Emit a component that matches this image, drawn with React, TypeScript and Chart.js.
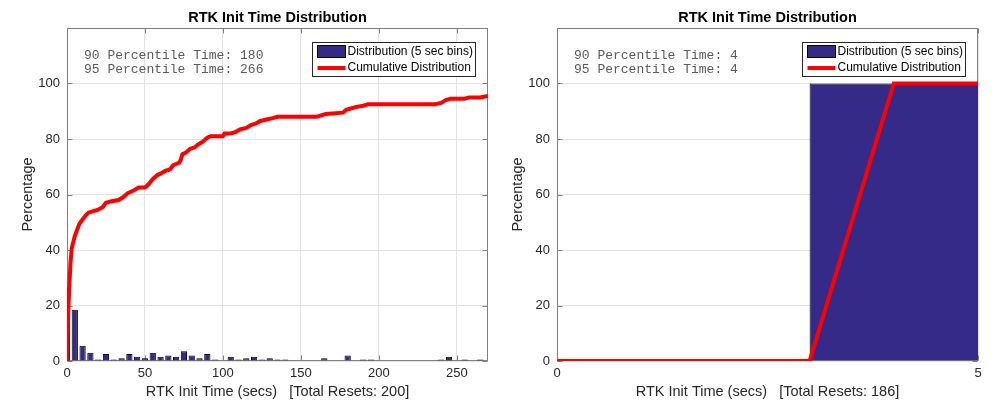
import React, { useEffect, useRef } from 'react';
import { Chart, registerables } from 'chart.js';

Chart.register(...registerables);

// ---------- Data ----------
const chartTitle = 'RTK Init Time Distribution';
const yAxisTitle = 'Percentage';
const legendLabels = ['Distribution (5 sec bins)', 'Cumulative Distribution'];

// Left panel
const xTitleL = 'RTK Init Time (secs)   [Total Resets: 200]';
const statsL = ['90 Percentile Time: 180', '95 Percentile Time: 266'];
const xTicksL = [0, 50, 100, 150, 200, 250];
const binCentersL = [
  0, 5, 10, 15, 20, 25, 30, 35, 40, 45, 50, 55, 60, 65, 70, 75, 80, 85, 90, 95,
  100, 105, 110, 115, 120, 125, 130, 135, 140, 145, 150, 155, 160, 165, 170, 175,
  180, 185, 190, 195, 200, 205, 210, 215, 220, 225, 230, 235, 240, 245, 250, 255,
  260, 265,
];
const binPctL = [
  26.5, 18.5, 5.5, 3, 0.5, 2.5, 0.5, 1, 2.5, 1.5, 1, 3, 1.5, 2, 1.5, 3.5, 2, 1, 2.5, 0.5,
  0, 1.5, 0.5, 1, 1.5, 0.5, 1, 0.5, 0.5, 0, 0, 0, 0, 1, 0, 0,
  2, 0, 0.5, 0.5, 0, 0, 0, 0, 0, 0, 0, 0, 0.5, 1.5, 0, 0.5,
  0, 0.5,
];
const cumXL = [
  0, 0.8, 1.5, 2.2, 3, 5, 7, 8, 10, 12, 14, 17, 20, 23, 25, 28, 33, 36, 39, 43,
  46, 50, 52, 55, 58, 60, 63, 66, 68, 70, 72, 73, 74, 76, 79, 82, 84, 87, 90, 92,
  97, 100, 101, 105, 108, 111, 115, 118, 121, 124, 128, 132, 135, 160, 163, 166, 177, 179, 182, 185,
  190, 193, 236, 240, 243, 246, 255, 258, 265, 270,
];
const cumYL = [
  0, 18, 27, 35, 40.5, 45, 48, 49.5, 51, 52.5, 53.5, 54, 54.5, 55.5, 57, 57.5, 58, 59, 60.5, 61.5,
  62.5, 62.5, 63.5, 65.5, 67, 67.5, 68.5, 69, 70.5, 71, 71.5, 72.5, 74.5, 75, 76.5, 77, 78, 79, 80.5, 81,
  81, 81, 82, 82, 82.5, 83.5, 84, 85, 85.5, 86.5, 87, 87.5, 88, 88, 88.5, 89, 89.5, 90.5, 91, 91.5,
  92, 92.5, 92.5, 93, 94, 94.5, 94.5, 95, 95, 95.5,
];

// Right panel
const xTitleR = 'RTK Init Time (secs)   [Total Resets: 186]';
const statsR = ['90 Percentile Time: 4', '95 Percentile Time: 4'];
const xTicksR = [0, 5];
const binCentersR = [5];
const binPctR = [100];
const cumXR = [0, 3, 4, 5];
const cumYR = [0, 0, 100, 100];

const yTicks = [0, 20, 40, 60, 80, 100];

// ---------- Styles ----------
const SANS = "'Liberation Sans', Arial, Helvetica, sans-serif";
const MONO = "'Liberation Mono', 'Courier New', monospace";
const TEXT = '#262626';
const FRAME = '#808080';
const GRID = '#e3e3e3';
const BAR = '#352a87';
const RED = '#ff0000';

Chart.defaults.font.family = SANS;
Chart.defaults.color = TEXT;

const framePlugin = {
  id: 'frame',
  beforeDatasetsDraw(chart: any) {
    const { ctx, chartArea: a, scales } = chart;
    ctx.save();
    ctx.strokeStyle = FRAME;
    ctx.lineWidth = 1;
    const L = Math.round(a.left) + 0.5;
    const R = Math.round(a.right) - 0.5;
    const T = Math.round(a.top) + 0.5;
    const B = Math.round(a.bottom) - 0.5;
    ctx.strokeRect(L, T, R - L, B - T);
    const tl = 5;
    ctx.beginPath();
    scales.x.ticks.forEach((t: any) => {
      const px = Math.round(scales.x.getPixelForValue(t.value)) + 0.5;
      ctx.moveTo(px, B);
      ctx.lineTo(px, B - tl);
      ctx.moveTo(px, T);
      ctx.lineTo(px, T + tl);
    });
    scales.y.ticks.forEach((t: any) => {
      const py = Math.round(scales.y.getPixelForValue(t.value)) + 0.5;
      ctx.moveTo(L, py);
      ctx.lineTo(L + tl, py);
      ctx.moveTo(R, py);
      ctx.lineTo(R - tl, py);
    });
    ctx.stroke();
    ctx.restore();
  },
};

function makeOverlay(stats: string[]) {
  return {
    id: 'overlay',
    afterDraw(chart: any) {
      const { ctx, chartArea: a } = chart;
      ctx.save();
      // percentile text
      ctx.font = `13px ${MONO}`;
      ctx.fillStyle = '#5a5a5a';
      ctx.textBaseline = 'middle';
      ctx.textAlign = 'left';
      stats.forEach((s, i) => ctx.fillText(s, a.left + 17, a.top + 28 + i * 13.6));
      // legend
      const bx = Math.round(a.left + 245) + 0.5;
      const by = Math.round(a.top + 14) + 0.5;
      const bw = 163;
      const bh = 34;
      ctx.fillStyle = '#ffffff';
      ctx.fillRect(bx, by, bw, bh);
      ctx.strokeStyle = '#262626';
      ctx.lineWidth = 1;
      ctx.strokeRect(bx, by, bw, bh);
      ctx.fillStyle = BAR;
      ctx.fillRect(bx + 5, by + 3, 28, 12);
      ctx.strokeStyle = '#000';
      ctx.strokeRect(bx + 5, by + 3, 28, 12);
      ctx.strokeStyle = RED;
      ctx.lineWidth = 4;
      ctx.beginPath();
      ctx.moveTo(bx + 5, by + 25.5);
      ctx.lineTo(bx + 33, by + 25.5);
      ctx.stroke();
      ctx.font = `12px ${SANS}`;
      ctx.fillStyle = '#000';
      ctx.fillText(legendLabels[0], bx + 35, by + 9.5);
      ctx.fillText(legendLabels[1], bx + 35, by + 25.5);
      ctx.restore();
    },
  };
}

type Panel = {
  binX: number[];
  binY: number[];
  cumX: number[];
  cumY: number[];
  xTicks: number[];
  xMax: number;
  xTitle: string;
  stats: string[];
  yWidth: number;
  padRight: number;
  yTitlePad: number;
};

function buildConfig(p: Panel): any {
  return {
    type: 'bar',
    data: {
      datasets: [
        {
          type: 'line',
          label: legendLabels[1],
          data: p.cumX.map((x, i) => ({ x, y: p.cumY[i] })),
          borderColor: RED,
          backgroundColor: RED,
          borderWidth: 4,
          pointRadius: 0,
          tension: 0,
          fill: false,
          clip: 0,
          order: 0,
        },
        {
          type: 'bar',
          label: legendLabels[0],
          data: p.binX.map((x, i) => ({ x, y: p.binY[i] })),
          backgroundColor: BAR,
          borderColor: '#000000',
          borderWidth: 1,
          borderSkipped: 'start',
          barPercentage: 0.8,
          categoryPercentage: 1,
          clip: 0,
          order: 1,
        },
      ],
    },
    options: {
      responsive: false,
      animation: false,
      events: [],
      layout: { padding: { left: 0, right: p.padRight, top: 0, bottom: 0 } },
      plugins: {
        legend: { display: false },
        tooltip: { enabled: false },
        title: {
          display: true,
          text: chartTitle,
          fullSize: false,
          color: '#000',
          font: { size: 14.5, weight: 'bold', family: SANS },
          padding: { top: 8.8, bottom: 1.8 },
        },
      },
      scales: {
        x: {
          type: 'linear',
          min: 0,
          max: p.xMax,
          offset: false,
          grid: { offset: false, color: GRID, drawTicks: false },
          border: { display: false },
          ticks: { padding: 5, font: { size: 13 }, color: TEXT, maxRotation: 0, includeBounds: false },
          afterBuildTicks: (s: any) => {
            s.ticks = p.xTicks.map((v) => ({ value: v }));
          },
          afterFit: (s: any) => {
            s.height = 42;
          },
          title: {
            display: true,
            text: p.xTitle,
            color: TEXT,
            font: { size: 14.5 },
            padding: { top: 0, bottom: 2.3 },
          },
        },
        y: {
          type: 'linear',
          min: 0,
          max: 120,
          grid: { color: GRID, drawTicks: false },
          border: { display: false },
          ticks: { padding: 7, font: { size: 13 }, color: TEXT, includeBounds: false },
          afterBuildTicks: (s: any) => {
            s.ticks = yTicks.map((v) => ({ value: v }));
          },
          afterFit: (s: any) => {
            s.width = p.yWidth;
          },
          title: {
            display: true,
            text: yAxisTitle,
            color: TEXT,
            font: { size: 14.5 },
            padding: { top: p.yTitlePad, bottom: 0 },
          },
        },
      },
    },
    plugins: [framePlugin, makeOverlay(p.stats)],
  };
}

const leftPanel: Panel = {
  binX: binCentersL,
  binY: binPctL,
  cumX: cumXL,
  cumY: cumYL,
  xTicks: xTicksL,
  xMax: 270,
  xTitle: xTitleL,
  stats: statsL,
  yWidth: 67,
  padRight: 12,
  yTitlePad: 19.3,
};

const rightPanel: Panel = {
  binX: binCentersR,
  binY: binPctR,
  cumX: cumXR,
  cumY: cumYR,
  xTicks: xTicksR,
  xMax: 5,
  xTitle: xTitleR,
  stats: statsR,
  yWidth: 57,
  padRight: 22,
  yTitlePad: 9.3,
};

export default function App() {
  const leftRef = useRef<HTMLCanvasElement | null>(null);
  const rightRef = useRef<HTMLCanvasElement | null>(null);

  useEffect(() => {
    const charts: Chart[] = [];
    if (leftRef.current) charts.push(new Chart(leftRef.current, buildConfig(leftPanel)));
    if (rightRef.current) charts.push(new Chart(rightRef.current, buildConfig(rightPanel)));
    return () => charts.forEach((c) => c.destroy());
  }, []);

  return (
    <div
      style={{
        position: 'absolute',
        left: 0,
        top: 0,
        width: 1000,
        height: 403,
        background: '#ffffff',
        overflow: 'hidden',
      }}
    >
      <canvas
        ref={leftRef}
        width={500}
        height={403}
        style={{ position: 'absolute', left: 0, top: 0, width: 500, height: 403 }}
      />
      <canvas
        ref={rightRef}
        width={500}
        height={403}
        style={{ position: 'absolute', left: 500, top: 0, width: 500, height: 403 }}
      />
    </div>
  );
}
